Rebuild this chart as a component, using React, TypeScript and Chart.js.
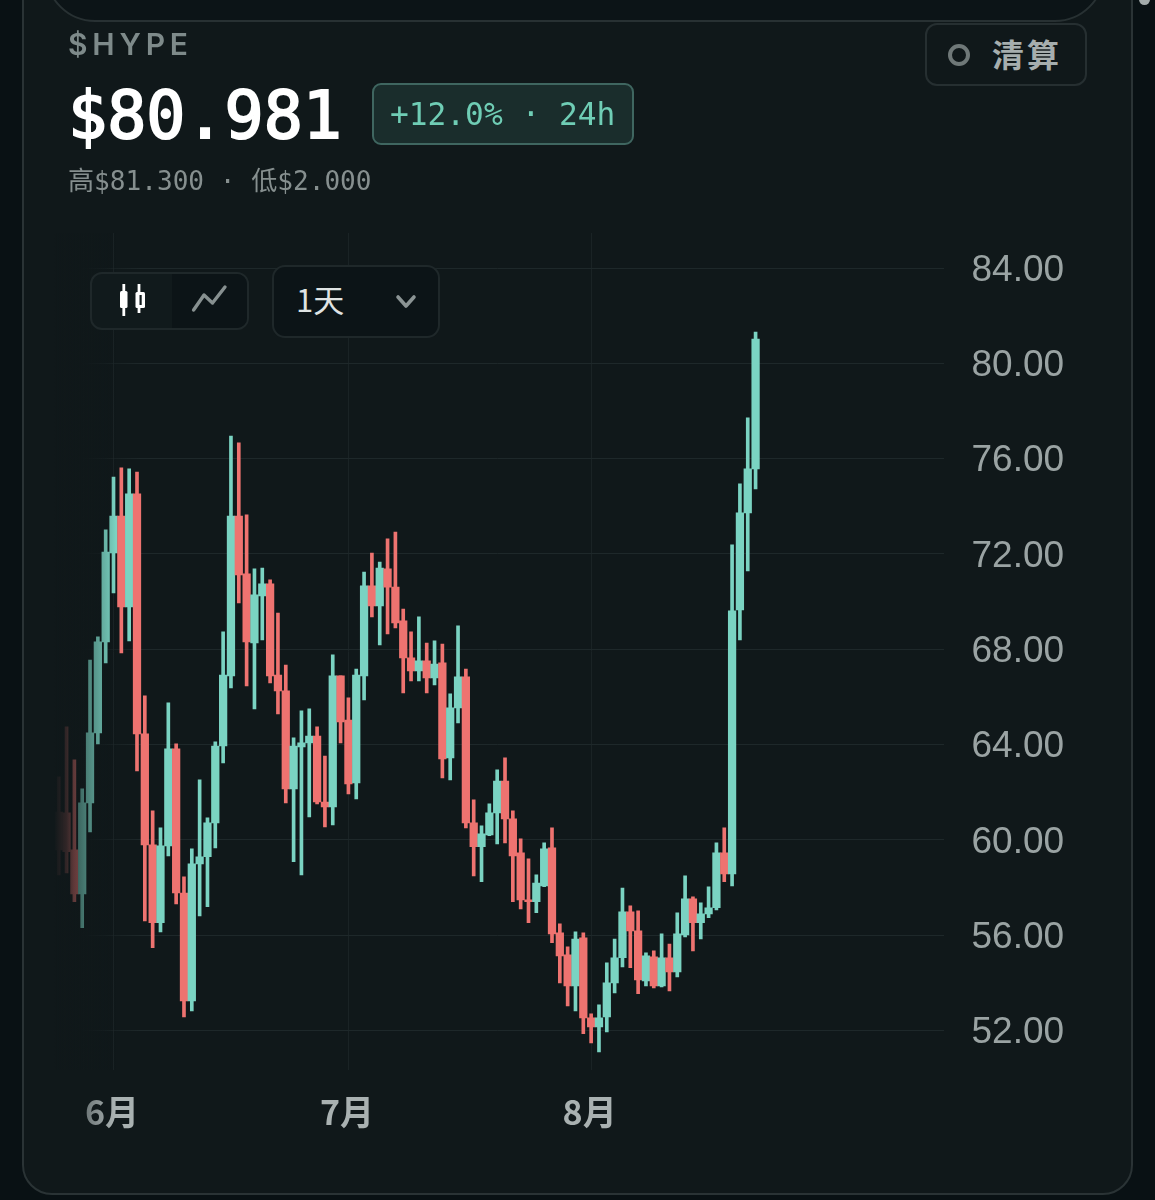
import React, { useEffect, useRef } from "react";
import { Chart, registerables } from "chart.js";

Chart.register(...registerables);

const candleDates = [
  "05-25","05-26","05-27","05-28","05-29","05-30","05-31",
  "06-01","06-02","06-03","06-04","06-05","06-06","06-07","06-08","06-09","06-10",
  "06-11","06-12","06-13","06-14","06-15","06-16","06-17","06-18","06-19","06-20",
  "06-21","06-22","06-23","06-24","06-25","06-26","06-27","06-28","06-29","06-30",
  "07-01","07-02","07-03","07-04","07-05","07-06","07-07","07-08","07-09","07-10",
  "07-11","07-12","07-13","07-14","07-15","07-16","07-17","07-18","07-19","07-20",
  "07-21","07-22","07-23","07-24","07-25","07-26","07-27","07-28","07-29","07-30","07-31",
  "08-01","08-02","08-03","08-04","08-05","08-06","08-07","08-08","08-09","08-10",
  "08-11","08-12","08-13","08-14","08-15","08-16","08-17","08-18","08-19","08-20","08-21","08-22",
];

const opens = [
  61.17,61.13,59.58,57.73,61.55,64.49,68.31,72.04,73.59,69.78,
  74.52,64.45,59.79,56.52,59.75,63.82,57.77,53.24,58.99,59.29,
  60.71,63.94,66.88,73.59,71.16,68.26,70.24,70.74,66.92,66.25,
  62.14,63.90,64.07,64.36,61.59,61.38,66.88,65.03,62.39,66.88,
  70.66,69.82,71.37,70.61,69.19,67.64,67.09,67.51,66.80,67.43,
  63.44,65.54,66.84,60.71,59.71,60.21,61.13,62.47,60.88,59.45,
  57.48,57.40,58.07,59.66,56.10,55.17,53.87,55.89,52.53,52.15,
  52.57,54.00,55.05,56.98,56.18,54.08,55.09,53.87,55.05,54.46,
  56.01,57.52,56.52,56.89,57.15,59.45,58.57,69.65,73.72,75.57,
];
const closes = [
  59.58,59.50,57.73,61.55,64.49,68.31,72.08,73.59,69.78,74.52,
  64.45,59.79,56.52,59.75,63.82,57.77,53.24,58.99,59.29,60.71,
  63.94,66.92,73.59,71.12,68.31,70.28,70.74,66.88,66.25,62.14,
  63.94,64.07,64.36,61.59,61.38,66.88,64.95,62.35,66.92,70.66,
  69.82,71.41,70.61,69.10,67.64,67.09,67.51,66.80,67.38,63.40,
  65.54,66.84,60.71,59.71,60.25,61.13,62.47,60.88,59.33,57.48,
  57.40,58.19,59.62,56.05,55.13,53.87,55.84,52.53,52.15,52.53,
  54.00,55.05,56.98,56.18,54.12,55.13,53.87,55.05,54.46,56.05,
  57.52,56.52,56.89,57.15,59.45,58.57,69.61,73.72,75.57,81.02,
];
const highs = [
  62.64,64.74,63.36,62.14,67.55,68.52,73.01,75.23,75.61,75.57,
  75.44,66.04,61.22,60.50,65.75,64.03,58.45,59.62,62.52,60.92,
  64.11,68.73,76.95,76.66,73.64,71.37,71.41,70.91,69.52,67.34,
  64.28,65.41,65.50,64.74,63.52,67.76,66.88,65.96,67.17,71.24,
  72.04,71.66,72.63,72.92,69.69,68.73,69.36,68.26,68.35,68.22,
  66.13,68.98,67.17,61.68,60.59,61.51,62.94,63.44,61.22,60.04,
  59.20,58.53,59.87,60.50,56.47,55.51,56.14,56.10,52.70,53.08,
  54.84,55.84,57.98,57.23,57.02,55.26,55.34,56.05,55.63,56.94,
  58.49,57.61,57.36,58.03,59.87,60.50,72.38,74.94,77.71,81.31,
];
const lows = [
  58.53,58.61,57.40,56.31,60.33,64.03,67.43,70.36,67.85,68.35,
  62.89,56.60,55.47,56.14,59.33,57.31,52.57,52.82,56.81,57.19,
  59.66,63.23,66.38,69.94,66.46,65.50,68.39,66.59,65.29,61.55,
  59.08,58.53,60.96,61.51,60.54,60.63,64.07,61.93,61.72,65.87,
  69.36,68.18,68.64,68.89,66.17,66.67,66.67,66.17,66.50,62.60,
  62.52,64.91,60.50,58.49,58.24,60.17,59.83,59.87,57.40,57.10,
  56.52,56.94,58.03,55.68,54.00,53.03,52.82,51.86,51.48,51.10,
  51.94,53.58,54.67,54.63,53.54,53.87,53.79,53.83,53.66,54.25,
  55.93,55.34,55.84,56.73,57.06,58.24,58.07,68.39,71.29,74.73,
];

const yTickValues = [52, 56, 60, 64, 68, 72, 76, 80, 84];
const monthTicks = [
  { date: "06-01", label: "6月" },
  { date: "07-01", label: "7月" },
  { date: "08-01", label: "8月" },
];

const UP = "#7ad3c2";
const DOWN = "#ee7370";
const CARD = "#10181a";
const padLeft = 1;
const padRight = 24;

const allLabels = [
  ...Array(padLeft).fill(""),
  ...candleDates,
  ...Array(padRight).fill(""),
];
const blanksL = Array(padLeft).fill(null);
const blanksR = Array(padRight).fill(null);
const isUp = (i: number) => closes[i] >= opens[i];
const candleColors = [
  ...blanksL.map(() => UP),
  ...opens.map((_, i) => (isUp(i) ? UP : DOWN)),
  ...blanksR.map(() => UP),
];

const leftFade = {
  id: "leftFade",
  afterDatasetsDraw(chart: any) {
    const { ctx, chartArea } = chart;
    const g = ctx.createLinearGradient(54, 0, 116, 0);
    g.addColorStop(0, "rgba(16,24,26,1)");
    g.addColorStop(0.2, "rgba(16,24,26,0.85)");
    g.addColorStop(0.32, "rgba(16,24,26,0.65)");
    g.addColorStop(1, "rgba(16,24,26,0)");
    ctx.save();
    ctx.fillStyle = g;
    ctx.fillRect(40, chartArea.top, 76, chartArea.bottom - chartArea.top);
    ctx.restore();
  },
};

function CandleChart() {
  const ref = useRef<HTMLCanvasElement>(null);
  useEffect(() => {
    const chart = new Chart(ref.current as HTMLCanvasElement, {
      type: "bar",
      data: {
        labels: allLabels,
        datasets: [
          {
            label: "wick",
            data: [...blanksL, ...lows.map((l, i) => [l, highs[i]]), ...blanksR] as any,
            backgroundColor: candleColors,
            barThickness: 3,
            order: 2,
            borderWidth: 0,
            borderSkipped: false,
          },
          {
            label: "body",
            data: [...blanksL, ...opens.map((o, i) => [o, closes[i]]), ...blanksR] as any,
            backgroundColor: candleColors,
            barThickness: 7.6,
            order: 1,
            borderWidth: 0,
            borderSkipped: false,
          },
        ],
      },
      options: {
        responsive: false,
        animation: false,
        events: [],
        layout: { padding: { left: 50.87, top: 233, right: 0, bottom: 0 } },
        plugins: { legend: { display: false }, tooltip: { enabled: false } },
        datasets: { bar: { grouped: false } },
        scales: {
          x: {
            type: "category",
            offset: false,
            afterBuildTicks(axis: any) {
              const wanted = monthTicks.map((m) => allLabels.indexOf(m.date));
              axis.ticks = wanted.map((value) => ({ value }));
            },
            afterFit(axis: any) {
              axis.height = 130;
            },
            grid: {
              offset: false,
              drawTicks: false,
              color: "#1a2325",
              lineWidth: 1,
            },
            border: { display: false },
            ticks: {
              autoSkip: false,
              maxRotation: 0,
              padding: 22,
              labelOffset: -1.5,
              font: { family: "'Noto Sans CJK SC'", size: 34, weight: "700" },
              color: (ctx: any) => {
                if (ctx.index !== 0) return "#a9b1b1";
                const g = ctx.chart.ctx.createLinearGradient(-26, 0, 2, 0);
                g.addColorStop(0, "#6f7879");
                g.addColorStop(1, "#a9b1b1");
                return g;
              },
              callback: (value: any) => {
                const date = allLabels[value as number];
                const m = monthTicks.find((t) => t.date === date);
                return m ? m.label : "";
              },
            },
          },
          y: {
            position: "right",
            min: 50.34,
            max: 85.47,
            afterBuildTicks(axis: any) {
              axis.ticks = yTickValues.map((value) => ({ value }));
            },
            afterFit(axis: any) {
              axis.width = 211.5;
            },
            grid: {
              drawTicks: false,
              lineWidth: 1,
              color: (ctx: any) => {
                const g = ctx.chart.ctx.createLinearGradient(80, 0, 140, 0);
                g.addColorStop(0, "rgba(30,40,42,0)");
                g.addColorStop(1, "rgba(30,40,42,1)");
                return g;
              },
            },
            border: { display: false },
            ticks: {
              padding: 28,
              labelOffset: 2.5,
              font: { family: "'Liberation Sans'", size: 37 },
              color: "#9aa3a3",
              callback: (v: any) => Number(v).toFixed(2),
            },
          },
        },
      } as any,
      plugins: [leftFade],
    } as any);
    return () => chart.destroy();
  }, []);
  return (
    <canvas
      ref={ref}
      width={1155}
      height={1200}
      style={{ position: "absolute", left: 0, top: 0, width: 1155, height: 1200 }}
    />
  );
}

const abs = (s: React.CSSProperties): React.CSSProperties => ({
  position: "absolute",
  boxSizing: "border-box",
  whiteSpace: "nowrap",
  ...s,
});
const MONO = "'DejaVu Sans Mono','Noto Sans CJK SC',monospace";
const CJK = "'Noto Sans CJK SC',sans-serif";

export default function App() {
  return (
    <div style={abs({ left: 0, top: 0, width: 1155, height: 1200, overflow: "hidden", background: "#091114" })}>
      <div style={abs({ left: 22, top: -60, width: 1111, height: 1255, background: CARD, border: "2px solid #2a3335", borderRadius: 30 })} />
      <div style={abs({ left: 45, top: -100, width: 1060, height: 122, background: "#0c1417", border: "2px solid #283133", borderRadius: 50 })} />
      <div style={abs({ left: 1139, top: -6, width: 11, height: 11, borderRadius: 6, background: "#a3abab" })} />

      <CandleChart />

      <div style={abs({ left: 68, top: 24, fontFamily: "Inter,sans-serif", fontSize: 30, lineHeight: "40px", fontWeight: 600, letterSpacing: 4.8, color: "#7e8a8a" })}>$HYPE</div>
      <div style={abs({ left: 68, top: 76, fontFamily: MONO, fontSize: 65, lineHeight: "80px", fontWeight: 400, color: "#ffffff", WebkitTextStroke: "2px #ffffff" })}>$80.981</div>
      <div style={abs({ left: 372, top: 83, width: 262, height: 62, background: "#1a2d2c", border: "2px solid #3f6660", borderRadius: 9 })} />
      <div style={abs({ left: 390, top: 94, fontFamily: MONO, fontSize: 31.2, lineHeight: "40px", color: "#6fcdb5" })}>+12.0% · 24h</div>
      <div style={abs({ left: 68, top: 163, fontFamily: MONO, fontSize: 26.1, lineHeight: "36px", color: "#868f8f" })}>高$81.300 · 低$2.000</div>

      <div style={abs({ left: 925, top: 23, width: 162, height: 63, background: CARD, border: "2px solid #262f31", borderRadius: 12 })} />
      <div style={abs({ left: 948, top: 44, width: 22, height: 22, border: "4px solid #6f7878", borderRadius: 11 })} />
      <div style={abs({ left: 992, top: 30, fontFamily: CJK, fontSize: 32, lineHeight: "46px", fontWeight: 600, letterSpacing: 3, color: "#a6aeae" })}>清算</div>

      <div style={abs({ left: 90, top: 272, width: 159, height: 58, background: "#111a1c", border: "2px solid #1f282a", borderRadius: 12, overflow: "hidden" })}>
        <div style={abs({ left: 80, top: 0, width: 79, height: 58, background: "#0c1417" })} />
      </div>
      <svg style={abs({ left: 112, top: 280, width: 120, height: 42 })} viewBox="0 0 120 42">
        <rect x="10.4" y="4" width="2.8" height="32" fill="#fff" />
        <rect x="8" y="11" width="7.5" height="17" rx="1.5" fill="#fff" />
        <rect x="25.6" y="4" width="2.8" height="29" fill="#fff" />
        <rect x="23.5" y="12" width="9.5" height="16" rx="1.5" fill="#fff" />
        <rect x="27.5" y="15" width="2.2" height="10" fill="#111a1c" />
        <path d="M81.6 30 L92 15 L100.5 23 L113 7" fill="none" stroke="#879090" strokeWidth="3.4" strokeLinecap="round" strokeLinejoin="round" />
      </svg>

      <div style={abs({ left: 272, top: 265, width: 168, height: 73, background: "#0c1417", border: "2px solid #1f282a", borderRadius: 13 })} />
      <div style={abs({ left: 296, top: 277, fontFamily: CJK, fontSize: 31, lineHeight: "44px", color: "#dfe3e3" })}>1天</div>
      <svg style={abs({ left: 394, top: 292, width: 24, height: 20 })} viewBox="0 0 24 20">
        <path d="M4 5 L12 14 L20 5" fill="none" stroke="#8b9494" strokeWidth="3.6" strokeLinecap="round" strokeLinejoin="round" />
      </svg>
    </div>
  );
}
